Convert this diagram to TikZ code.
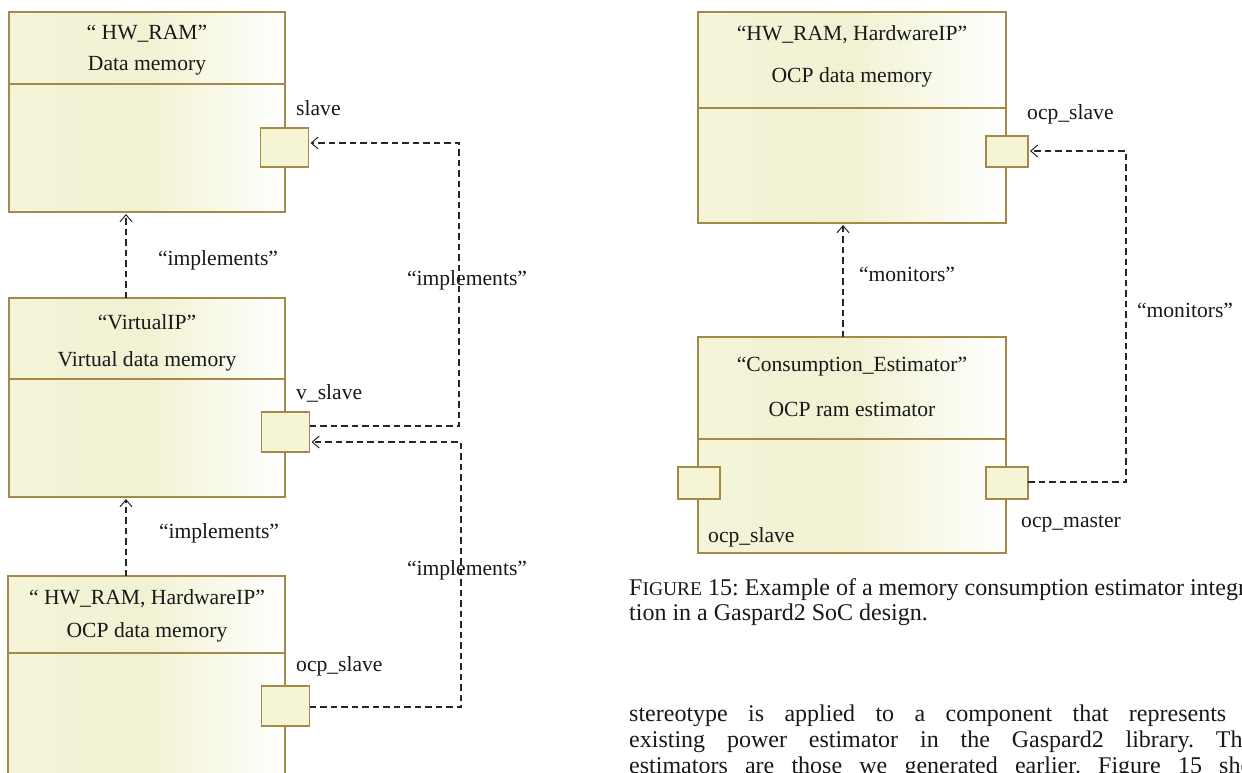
\documentclass[tikz,border=0pt]{standalone}
\usepackage{fontspec}
\setmainfont{Liberation Serif}
\usetikzlibrary{arrows.meta,calc}
\definecolor{boxfill}{RGB}{241,242,210}
\definecolor{portfill}{RGB}{245,245,214}
\definecolor{boxline}{RGB}{166,137,72}
\frenchspacing
\begin{document}
\begin{tikzpicture}[x=1pt,y=-1pt,
  umlbox/.style={draw=boxline,line width=1.2pt,left color=boxfill!85!white,right color=white,middle color=boxfill,inner sep=0pt,outer sep=0pt},
  port/.style={draw=boxline,line width=1.2pt,fill=portfill,inner sep=0pt,outer sep=0pt},
  divider/.style={draw=boxline,line width=1.1pt},
  txt/.style={font=\fontsize{21.6}{24}\selectfont,inner sep=0pt,text=black!90,anchor=mid,yshift=-4pt},
  ptxt/.style={txt,anchor=mid west},
  dep/.style={draw=black!85,line width=1.1pt,dash pattern=on 6.5pt off 4pt},
  deparrow/.style={dep,-{Straight Barb[length=7pt,width=12pt,line width=1pt]},shorten >=2pt},
  body/.style={font=\fontsize{24}{27}\selectfont,inner sep=0pt,anchor=base west,text=black!90}]
\useasboundingbox (0,0) rectangle (1242,773);
\clip (0,0) rectangle (1242,773);
\fill[white] (0,0) rectangle (1242,773);

% ---------- left diagram ----------
\node[umlbox,minimum width=276pt,minimum height=200pt] (b1) at (147,112) {};
\draw[divider] (b1.west |- 0,84) -- (b1.east |- 0,84);
\node[txt] (b1s) at (147,33) {“ HW\_RAM”};
\node[txt] (b1n) at (147,64) {Data memory};

\node[umlbox,minimum width=276pt,minimum height=199pt] (b2) at (147,397.5) {};
\draw[divider] (b2.west |- 0,379) -- (b2.east |- 0,379);
\node[txt] (b2s) at (147,323) {“VirtualIP”};
\node[txt] (b2n) at (147,360) {Virtual data memory};

\node[umlbox,minimum width=277pt,minimum height=260pt] (b3) at (146.5,706) {};
\draw[divider] (b3.west |- 0,653) -- (b3.east |- 0,653);
\node[txt] (b3s) at (147,598) {“ HW\_RAM, HardwareIP”};
\node[txt] (b3n) at (147,631) {OCP data memory};

\node[port,minimum width=48pt,minimum height=39pt] (p1) at (284.5,147.5) {};
\node[port,minimum width=48pt,minimum height=40pt] (p2) at (285.5,432) {};
\node[port,minimum width=48pt,minimum height=40pt] (p3) at (285.5,706) {};
\node[ptxt] (p1l) at (296,109) {slave};
\node[ptxt] (p2l) at (296,393) {v\_slave};
\node[ptxt] (p3l) at (296,665) {ocp\_slave};

\coordinate (a1) at (126,0);
\draw[deparrow] (b2.north -| a1) -- (b1.south -| a1);
\draw[deparrow] (b3.north -| a1) -- (b2.south -| a1);
\node[txt] (i1) at (218,259) {“implements”};
\node[txt] (i2) at (219,532) {“implements”};

\coordinate (r1) at (459,0);
\coordinate (r2) at (461,0);
\coordinate (p1in) at ([yshift=4.5pt]p1.east);
\coordinate (p2out) at ([yshift=6pt]p2.east);
\coordinate (p2in) at ([yshift=-10pt]p2.east);
\coordinate (p3out) at ([yshift=-1pt]p3.east);
\draw[deparrow] (p2out) -- (p2out -| r1) -- (p1in -| r1) -- (p1in);
\draw[deparrow] (p3out) -- (p3out -| r2) -- (p2in -| r2) -- (p2in);
\node[txt] (i3) at (467,279) {“implements”};
\node[txt] (i4) at (467,569) {“implements”};

% ---------- right diagram ----------
\node[umlbox,minimum width=308pt,minimum height=211pt] (R1) at (852,117.5) {};
\draw[divider] (R1.west |- 0,108) -- (R1.east |- 0,108);
\node[txt] (R1s) at (852,34) {“HW\_RAM, HardwareIP”};
\node[txt] (R1n) at (852,76) {OCP data memory};

\node[umlbox,minimum width=308pt,minimum height=216pt] (R2) at (852,445) {};
\draw[divider] (R2.west |- 0,439) -- (R2.east |- 0,439);
\node[txt] (R2s) at (852,365) {“Consumption\_Estimator”};
\node[txt] (R2n) at (852,410) {OCP ram estimator};

\node[port,minimum width=42pt,minimum height=31pt] (rp1) at (1007,151.5) {};
\node[port,minimum width=42pt,minimum height=32pt] (rp2) at (1007,483) {};
\node[port,minimum width=42pt,minimum height=32pt] (rp3) at (699,483) {};
\node[ptxt] (rp1l) at (1027,113) {ocp\_slave};
\node[ptxt] (rp2l) at (1021,521) {ocp\_master};
\node[ptxt] (rp3l) at (708,536) {ocp\_slave};

\coordinate (a3) at (843,0);
\draw[deparrow] (R2.north -| a3) -- (R1.south -| a3);
\node[txt] (m1) at (907,275) {“monitors”};

\coordinate (r3) at (1126,0);
\draw[deparrow] ([yshift=1pt]rp2.east) -- ([yshift=1pt]rp2.east -| r3) -- ([yshift=0.5pt]rp1.east -| r3) -- ([yshift=0.5pt]rp1.east);
\node[txt] (m2) at (1185,311) {“monitors”};

% ---------- caption and body text ----------
\node[body] (cap1) at (629,595) {F{\fontsize{19.5}{20}\selectfont IGURE} 15: Example of a memory consumption estimator integra-};
\node[body] (cap2) at (629,620) {tion in a Gaspard2 SoC design.};
\node[body] (t1) at (629,721) {\makebox[597pt][s]{stereotype is applied to a component that represents}};
\node[body] (t2) at (629,747) {\makebox[644pt][s]{existing power estimator in the Gaspard2 library. These}};
\node[body] (t3) at (629,773) {\makebox[650pt][s]{estimators are those we generated earlier. Figure 15 shows}};
\end{tikzpicture}
\end{document}
